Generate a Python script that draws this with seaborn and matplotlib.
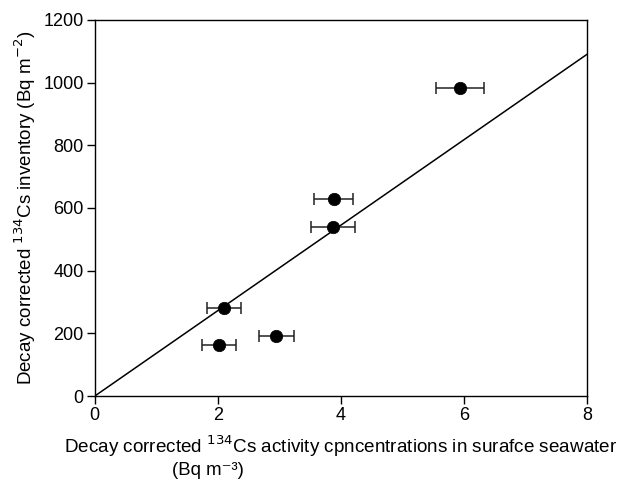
import numpy as np
import matplotlib
matplotlib.use("Agg")
import matplotlib.pyplot as plt
import seaborn as sns

# measured seawater activity vs inventory
activity = [5.93, 3.88, 3.87, 2.10, 2.02, 2.95]
activity_err = [0.39, 0.31, 0.36, 0.28, 0.28, 0.28]
inventory = [983, 628, 540, 280, 162, 190]

# fitted line through origin
fit_x = [0, 8]
fit_y = [0, 1090]

x_ticks = [0, 2, 4, 6, 8]
y_ticks = [0, 200, 400, 600, 800, 1000, 1200]

sns.set_theme(style="ticks")
plt.rcParams["font.family"] = ["Liberation Sans", "DejaVu Sans"]

fig = plt.figure(figsize=(6.36, 4.83), dpi=100)
ax = fig.add_axes([0.149, 0.180, 0.774, 0.779])

sns.lineplot(x=fit_x, y=fit_y, ax=ax, color="black", linewidth=1.1)

ax.errorbar(activity, inventory, xerr=activity_err, fmt="none",
            ecolor="#222222", elinewidth=1.1, capsize=4.5, capthick=1.1)

sns.scatterplot(x=activity, y=inventory, ax=ax, color="black",
                s=80, edgecolor="black", linewidth=0.5, zorder=3)

ax.set_xlim(0, 8)
ax.set_ylim(0, 1200)
ax.set_xticks(x_ticks)
ax.set_yticks(y_ticks)
ax.tick_params(axis="both", labelsize=13, length=6, width=1, pad=2,
               color="black", labelcolor="black", direction="out")

for spine in ax.spines.values():
    spine.set_color("black")
    spine.set_linewidth(1)
    spine.set_visible(True)

ax.set_ylabel(r"Decay corrected $^{134}$Cs inventory (Bq m$^{-2}$)",
              fontsize=13.5, color="black", labelpad=4)
ax.set_xlabel(r"Decay corrected $^{134}$Cs activity cpncentrations in surafce seawater",
              fontsize=13.6, color="black", labelpad=7)
# second line of the x label, indented like the original
fig.text(172 / 636, 4 / 483, "(Bq m\u207b\u00b3)", fontsize=13.4,
         color="black", ha="left", va="bottom")

fig.savefig("out.png", dpi=100)
